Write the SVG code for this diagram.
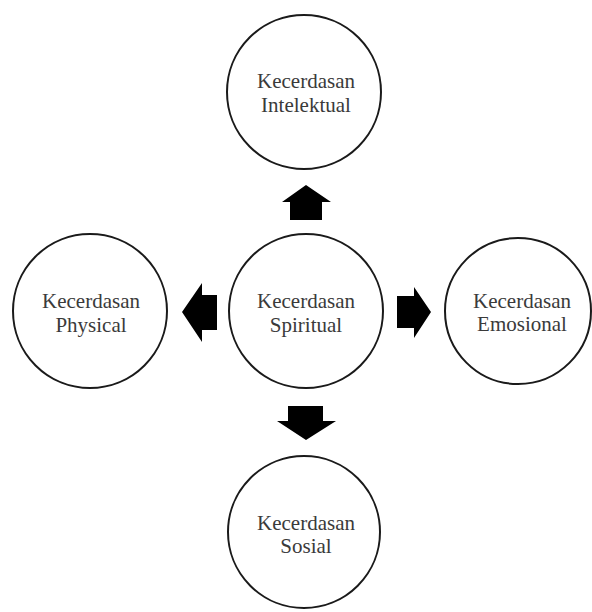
<svg xmlns="http://www.w3.org/2000/svg" width="592" height="612" viewBox="0 0 592 612">
<style>
.c{fill:#fff;stroke:#1a1a1a;stroke-width:2}
.t{font-family:"Liberation Serif","Times New Roman",serif;font-size:21px;fill:#3a3a3a;text-anchor:middle}
.a{fill:#000}
</style>
<rect width="592" height="612" fill="#fff"/>
<g id="intelektual"><circle class="c" cx="304" cy="92" r="77"/><text class="t" x="306" y="88">Kecerdasan</text><text class="t" x="306" y="112">Intelektual</text></g>
<g id="spiritual"><circle class="c" cx="306" cy="311" r="77"/><text class="t" x="306" y="308">Kecerdasan</text><text class="t" x="306" y="332">Spiritual</text></g>
<g id="physical"><circle class="c" cx="90" cy="311" r="77"/><text class="t" x="91" y="308">Kecerdasan</text><text class="t" x="91" y="332">Physical</text></g>
<g id="emosional"><circle class="c" cx="518" cy="311" r="73"/><text class="t" x="522" y="308">Kecerdasan</text><text class="t" x="522" y="331">Emosional</text></g>
<g id="sosial"><circle class="c" cx="304" cy="532" r="76"/><text class="t" x="306" y="530">Kecerdasan</text><text class="t" x="306" y="553">Sosial</text></g>
<g id="connectors">
<polygon class="a" points="306,185 331,202 322,202 322,220 290,220 290,202 282,202"/>
<polygon class="a" points="182,312 202,283 202,295 217,295 217,330 202,330 202,342"/>
<polygon class="a" points="431,312 414,287 414,296 397,296 397,328 414,328 414,338"/>
<polygon class="a" points="306,440 336,421 323,421 323,406 288,406 288,421 277,421"/>
</g>
</svg>
